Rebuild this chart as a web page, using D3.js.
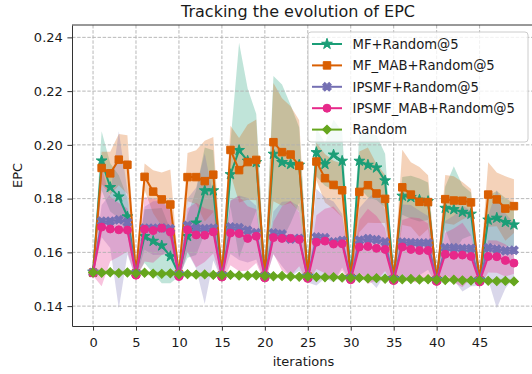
<!DOCTYPE html>
<html>
<head>
<meta charset="utf-8">
<title>Tracking the evolution of EPC</title>
<style>
body { margin: 0; background: #fff; }
text { font-family: "DejaVu Sans", sans-serif; fill: #1a1a1a; }
.axis text { font-size: 13px; }
.axis path, .axis line { stroke: #333; }
.grid line { stroke: #b0b0b0; stroke-width: 0.9; stroke-dasharray: 3.5,1.6; }
.band { stroke: none; fill-opacity: 0.28; }
.line { fill: none; stroke-width: 2; }
.title { font-size: 16px; }
.label { font-size: 13px; }
.legend text { font-size: 13.2px; }
</style>
<script src="https://d3js.org/d3.v7.min.js"></script>
</head>
<body>
<script>
// x values (iterations)
var iterations = [0,1,2,3,4,5,6,7,8,9,10,11,12,13,14,15,16,17,18,19,20,21,22,23,24,
                  25,26,27,28,29,30,31,32,33,34,35,36,37,38,39,40,41,42,43,44,45,46,47,48,49];
var xTicks = [0,5,10,15,20,25,30,35,40,45];
var yTicks = [0.14,0.16,0.18,0.20,0.22,0.24];
var seriesNames = ["MF+Random@5","MF_MAB+Random@5","IPSMF+Random@5","IPSMF_MAB+Random@5","Random"];

// MF+Random@5
var mfMean = [0.1527,0.1941,0.1842,0.1807,0.1733, 0.1524,0.1660,0.1642,0.1625,0.1585,
              0.1520,0.1660,0.1710,0.1830,0.1830, 0.1517,0.1890,0.1980,0.1940,0.1935,
              0.1514,0.1966,0.1935,0.1928,0.1925, 0.1512,0.1972,0.1928,0.1963,0.1940,
              0.1507,0.1940,0.1925,0.1915,0.1867, 0.1503,0.1810,0.1805,0.1795,0.1790,
              0.1500,0.1765,0.1760,0.1750,0.1743, 0.1498,0.1721,0.1728,0.1712,0.1703];
var mfStd  = [0.001,0.011,0.009,0.008,0.007, 0.001,0.010,0.012,0.014,0.010,
              0.001,0.008,0.012,0.016,0.015, 0.001,0.012,0.040,0.027,0.018,
              0.001,0.029,0.029,0.022,0.014, 0.001,0.009,0.008,0.013,0.011,
              0.001,0.010,0.012,0.012,0.010, 0.001,0.007,0.008,0.008,0.007,
              0.001,0.008,0.016,0.010,0.008, 0.001,0.009,0.010,0.009,0.008];

// MF_MAB+Random@5
var mfMabMean = [0.1525,0.1914,0.1894,0.1945,0.1926, 0.1522,0.1881,0.1826,0.1797,0.1778,
                 0.1519,0.1880,0.1880,0.1865,0.1889, 0.1515,0.1981,0.1906,0.1936,0.1944,
                 0.1512,0.2010,0.1973,0.1964,0.1922, 0.1510,0.1938,0.1876,0.1851,0.1831,
                 0.1505,0.1825,0.1850,0.1819,0.1799, 0.1501,0.1842,0.1815,0.1788,0.1787,
                 0.1498,0.1798,0.1793,0.1792,0.1786, 0.1496,0.1815,0.1797,0.1763,0.1772];
var mfMabStd  = [0.001,0.006,0.008,0.0095,0.011, 0.001,0.005,0.008,0.010,0.013,
                 0.001,0.009,0.010,0.015,0.014, 0.001,0.009,0.012,0.014,0.015,
                 0.001,0.022,0.020,0.018,0.017, 0.001,0.007,0.009,0.009,0.010,
                 0.001,0.015,0.014,0.011,0.009, 0.001,0.014,0.012,0.013,0.010,
                 0.001,0.009,0.009,0.007,0.005, 0.001,0.012,0.010,0.012,0.010];

// IPSMF+Random@5
var ipsMean = [0.1525,0.1716,0.1716,0.1721,0.1712, 0.1521,0.1690,0.1690,0.1691,0.1688,
               0.1517,0.1700,0.1690,0.1688,0.1690, 0.1514,0.1694,0.1692,0.1682,0.1673,
               0.1511,0.1672,0.1668,0.1650,0.1652, 0.1508,0.1657,0.1654,0.1639,0.1644,
               0.1504,0.1645,0.1651,0.1647,0.1639, 0.1500,0.1638,0.1636,0.1635,0.1635,
               0.1497,0.1617,0.1617,0.1614,0.1614, 0.1495,0.1617,0.1612,0.1606,0.1608];
var ipsStd  = [0.001,0.006,0.010,0.033,0.012, 0.002,0.008,0.010,0.010,0.008,
               0.002,0.010,0.015,0.028,0.012, 0.002,0.010,0.012,0.012,0.010,
               0.002,0.008,0.012,0.014,0.012, 0.002,0.018,0.015,0.015,0.010,
               0.002,0.012,0.015,0.018,0.012, 0.002,0.014,0.014,0.012,0.010,
               0.002,0.010,0.012,0.016,0.014, 0.002,0.012,0.022,0.014,0.010];

// IPSMF_MAB+Random@5
var ipsMabMean = [0.1523,0.1694,0.1687,0.1684,0.1683, 0.1515,0.1686,0.1681,0.1690,0.1676,
                  0.1510,0.1684,0.1665,0.1664,0.1676, 0.1508,0.1672,0.1670,0.1652,0.1660,
                  0.1505,0.1655,0.1652,0.1652,0.1648, 0.1503,0.1638,0.1642,0.1631,0.1632,
                  0.1498,0.1620,0.1622,0.1615,0.1611, 0.1495,0.1620,0.1611,0.1607,0.1607,
                  0.1492,0.1593,0.1589,0.1590,0.1585, 0.1490,0.1585,0.1584,0.1570,0.1560];
var ipsMabStd  = [0.001,0.022,0.012,0.010,0.008, 0.002,0.012,0.012,0.010,0.008,
                  0.002,0.008,0.012,0.010,0.008, 0.002,0.012,0.014,0.012,0.010,
                  0.002,0.006,0.012,0.014,0.010, 0.002,0.010,0.012,0.014,0.010,
                  0.002,0.010,0.014,0.012,0.008, 0.002,0.010,0.012,0.012,0.010,
                  0.002,0.008,0.010,0.012,0.008, 0.002,0.006,0.006,0.006,0.004];

// Random
var randMean = [0.1525,0.1524,0.1526,0.1523,0.1525, 0.1522,0.1524,0.1521,0.1520,0.1522,
                0.1518,0.1519,0.1517,0.1518,0.1516, 0.1515,0.1516,0.1514,0.1513,0.1515,
                0.1512,0.1511,0.1512,0.1510,0.1509, 0.1510,0.1508,0.1507,0.1508,0.1506,
                0.1505,0.1505,0.1503,0.1504,0.1502, 0.1501,0.1500,0.1501,0.1499,0.1500,
                0.1498,0.1497,0.1498,0.1496,0.1495, 0.1496,0.1494,0.1493,0.1494,0.1492];
var randStd  = [0.0008,0.0008,0.0008,0.0008,0.0008, 0.0008,0.0008,0.0008,0.0008,0.0008,
                0.0008,0.0008,0.0008,0.0008,0.0008, 0.0008,0.0008,0.0008,0.0008,0.0008,
                0.0008,0.0008,0.0008,0.0008,0.0008, 0.0008,0.0008,0.0008,0.0008,0.0008,
                0.0008,0.0008,0.0008,0.0008,0.0008, 0.0008,0.0008,0.0008,0.0008,0.0008,
                0.0008,0.0008,0.0008,0.0008,0.0008, 0.0008,0.0008,0.0008,0.0008,0.0008];

var colors = ["#1b9e77","#d95f02","#7570b3","#e7298a","#66a61e"];

var series = [
    { name: seriesNames[0], mean: mfMean,     std: mfStd,     color: colors[0], marker: "star" },
    { name: seriesNames[1], mean: mfMabMean,  std: mfMabStd,  color: colors[1], marker: "square" },
    { name: seriesNames[2], mean: ipsMean,    std: ipsStd,    color: colors[2], marker: "x" },
    { name: seriesNames[3], mean: ipsMabMean, std: ipsMabStd, color: colors[3], marker: "circle" },
    { name: seriesNames[4], mean: randMean,   std: randStd,   color: colors[4], marker: "diamond" }
];

var W = 532, H = 374;
var plotLeft = 72, plotRight = 535, plotTop = 25, plotBottom = 326;

var x = d3.scaleLinear().domain([-2.45, 51.45]).range([plotLeft, plotRight]);
var y = d3.scaleLinear().domain([0.1326, 0.2446]).range([plotBottom, plotTop]);

var svg = d3.select("body").append("svg")
            .attr("width", W)
            .attr("height", H);

function markerPath(kind){
    if(kind == "star") return d3.symbol().type(d3.symbolStar).size(36)();
    if(kind == "square") return d3.symbol().type(d3.symbolSquare).size(56)();
    if(kind == "x") return d3.symbol().type(d3.symbolCross).size(46)();
    if(kind == "circle") return d3.symbol().type(d3.symbolCircle).size(50)();
    return d3.symbol().type(d3.symbolSquare).size(40)();
}
function markerRotate(kind){
    return (kind == "x" || kind == "diamond") ? " rotate(45)" : "";
}

var plot = svg.append("g");
plot.append("clipPath").attr("id", "clip")
    .append("rect").attr("x", plotLeft).attr("y", plotTop)
    .attr("width", plotRight - plotLeft).attr("height", plotBottom - plotTop);

// bands first (they sit under everything else)
var bands = plot.append("g").attr("clip-path", "url(#clip)");
series.forEach(function(s){
    var area = d3.area()
        .x(function(d, i){ return x(iterations[i]); })
        .y0(function(d, i){ return y(s.mean[i] - s.std[i]); })
        .y1(function(d, i){ return y(s.mean[i] + s.std[i]); });
    bands.append("path")
        .datum(s.mean)
        .attr("class", "band")
        .attr("fill", s.color)
        .attr("d", area);
});

// grid
var grid = plot.append("g").attr("class", "grid");
grid.selectAll(".gx").data(xTicks).enter().append("line")
    .attr("x1", function(d){ return x(d); }).attr("x2", function(d){ return x(d); })
    .attr("y1", plotTop).attr("y2", plotBottom);
grid.selectAll(".gy").data(yTicks).enter().append("line")
    .attr("x1", plotLeft).attr("x2", plotRight)
    .attr("y1", function(d){ return y(d); }).attr("y2", function(d){ return y(d); });

// lines + markers
series.forEach(function(s){
    var line = d3.line()
        .x(function(d, i){ return x(iterations[i]); })
        .y(function(d){ return y(d); });
    var g = plot.append("g");
    g.append("path")
        .datum(s.mean)
        .attr("class", "line")
        .attr("stroke", s.color)
        .attr("d", line);
    g.selectAll("path.mk")
        .data(s.mean)
        .enter()
        .append("path")
        .attr("class", "mk")
        .attr("d", markerPath(s.marker))
        .attr("fill", s.color)
        .attr("stroke", s.color)
        .attr("stroke-width", 1)
        .attr("transform", function(d, i){
            return "translate(" + x(iterations[i]) + "," + y(d) + ")" + markerRotate(s.marker);
        });
});

// axes
svg.append("g")
   .attr("class", "axis")
   .attr("transform", "translate(0," + plotBottom + ")")
   .call(d3.axisBottom(x).tickValues(xTicks).tickSize(4.6).tickPadding(7).tickSizeOuter(0));
svg.append("g")
   .attr("class", "axis")
   .attr("transform", "translate(" + plotLeft + ",0)")
   .call(d3.axisLeft(y).tickValues(yTicks).tickFormat(d3.format(".2f")).tickSize(4.6).tickPadding(4.6).tickSizeOuter(0));
svg.append("line").attr("x1", plotLeft).attr("x2", plotRight).attr("y1", plotTop).attr("y2", plotTop)
   .attr("stroke", "#333");
svg.append("line").attr("x1", plotRight - 0.5).attr("x2", plotRight - 0.5).attr("y1", plotTop).attr("y2", plotBottom)
   .attr("stroke", "#333");

// titles
svg.append("text").attr("class", "title")
   .attr("x", 298).attr("y", 17)
   .attr("text-anchor", "middle")
   .text("Tracking the evolution of EPC");
svg.append("text").attr("class", "label")
   .attr("x", (plotLeft + plotRight) / 2).attr("y", 366)
   .attr("text-anchor", "middle")
   .text("iterations");
svg.append("text").attr("class", "label")
   .attr("transform", "translate(22," + ((plotTop + plotBottom) / 2) + ") rotate(-90)")
   .attr("text-anchor", "middle")
   .text("EPC");

// legend
var legend = svg.append("g").attr("class", "legend");
legend.append("rect")
      .attr("x", 308).attr("y", 32).attr("width", 220).attr("height", 110)
      .attr("rx", 3)
      .attr("fill", "#fff").attr("fill-opacity", 0.8)
      .attr("stroke", "#cccccc");
series.forEach(function(s, i){
    var ly = 44 + i * 21.4;
    legend.append("line")
          .attr("x1", 312).attr("x2", 342).attr("y1", ly).attr("y2", ly)
          .attr("stroke", s.color).attr("stroke-width", 2);
    legend.append("path")
          .attr("d", markerPath(s.marker))
          .attr("fill", s.color).attr("stroke", s.color)
          .attr("transform", "translate(327," + ly + ")" + markerRotate(s.marker));
    legend.append("text")
          .attr("x", 352.5).attr("y", ly).attr("dy", "0.36em")
          .text(s.name);
});
</script>
</body>
</html>
